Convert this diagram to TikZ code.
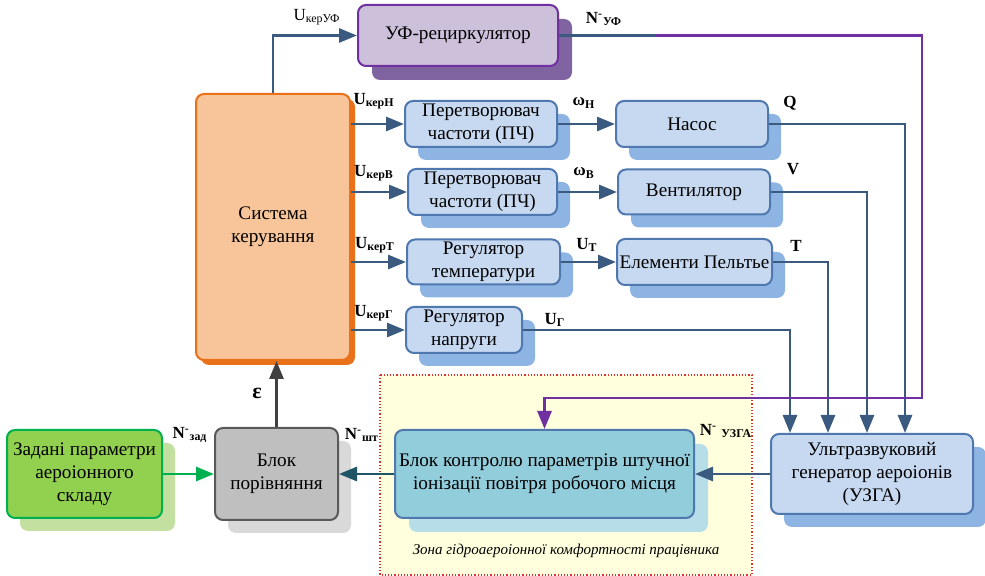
\documentclass[tikz,border=0pt]{standalone}
\usepackage{fontspec}
\setmainfont{Liberation Serif}
\usepackage{tikz}
\usetikzlibrary{arrows.meta, shadows, positioning, calc}
\definecolor{lineBlue}{RGB}{58,90,128}
\definecolor{edgeBlue}{RGB}{79,120,175}
\definecolor{boxBlue}{RGB}{198,217,241}
\definecolor{shBlue}{RGB}{142,180,227}
\definecolor{purpLine}{RGB}{112,48,160}
\definecolor{ufFill}{RGB}{204,192,218}
\definecolor{ufShadow}{RGB}{128,100,162}
\definecolor{sysFill}{RGB}{248,196,153}
\definecolor{sysEdge}{RGB}{232,113,26}
\definecolor{kFill}{RGB}{146,205,220}
\definecolor{kShadow}{RGB}{183,222,232}
\definecolor{zFill}{RGB}{146,208,80}
\definecolor{zEdge}{RGB}{0,176,80}
\definecolor{zShadow}{RGB}{196,224,160}
\definecolor{pFill}{RGB}{191,191,191}
\definecolor{pEdge}{RGB}{89,89,89}
\definecolor{pShadow}{RGB}{217,217,217}
\definecolor{epsGray}{RGB}{64,64,64}
\definecolor{tealLine}{RGB}{31,85,100}
\definecolor{zoneFill}{RGB}{255,255,221}
\definecolor{zoneEdge}{RGB}{220,50,50}

\begin{document}
\begin{tikzpicture}[x=0.5pt, y=-0.5pt,
  sz/.style 2 args={minimum width=#1*0.5pt, minimum height=#2*0.5pt},
  base/.style={draw=edgeBlue, line width=1pt, rounded corners=4pt, fill=boxBlue,
    align=center, inner sep=0pt, font=\fontsize{9.6}{11.5}\selectfont},
  shd/.style 2 args={drop shadow={shadow xshift=#1, shadow yshift=-#1, fill=#2, opacity=1}},
  blk/.style={base, shd={6.5pt}{shBlue}},
  ufblk/.style={base, draw=purpLine, fill=ufFill, shd={7pt}{ufShadow}},
  sysblk/.style={base, draw=sysEdge, fill=sysFill, shd={2.5pt}{sysEdge}},
  kblk/.style={base, fill=kFill, shd={7pt}{kShadow}},
  zblk/.style={base, draw=zEdge, fill=zFill, shd={6.5pt}{zShadow}},
  pblk/.style={base, draw=pEdge, fill=pFill, shd={6.5pt}{pShadow}},
  arr/.style={draw=lineBlue, line width=1.4pt, -{Triangle[length=9pt,width=7pt]}},
  lbl/.style={inner sep=0pt, font=\fontsize{8.5}{9}\selectfont\bfseries}]
\useasboundingbox (0,0) rectangle (985,576);

% zone of the workplace
\draw[fill=zoneFill, draw=zoneEdge, densely dotted, line width=0.6pt] (380,375) rectangle (752,575);
\node[font=\fontsize{7.5}{9}\selectfont\itshape] (zcap) at (566,551) {Зона гідроаероіонної комфортності працівника};

% blocks
\node[ufblk, sz={200}{61}] (uf) at (458,35.5) {УФ-рециркулятор};
\node[sysblk, sz={154}{266}] (sys) at (273,227) {Система\\керування};
\node[blk, sz={152}{46}] (pch1) at (481,124) {Перетворювач\\частоти (ПЧ)};
\node[blk, sz={152}{46}] (nasos) at (692,124) {Насос};
\node[blk, sz={149}{46}] (pch2) at (482.5,192) {Перетворювач\\частоти (ПЧ)};
\node[blk, sz={152}{45}] (vent) at (694,192) {Вентилятор};
\node[blk, sz={153}{45}] (regt) at (483.5,262) {Регулятор\\температури};
\node[blk, sz={155}{46}] (pelt) at (694.5,262) {Елементи Пельтье};
\node[blk, sz={116}{46}] (regn) at (464,330) {Регулятор\\напруги};
\node[blk, sz={202}{80}] (uzga) at (872,474) {Ультразвуковий\\генератор аероіонів\\(УЗГА)};
\node[kblk, sz={299}{88}] (kontr) at (544.5,474) {Блок контролю параметрів штучної\\іонізації повітря робочого місця};
\node[zblk, sz={155}{88}] (zad) at (84.5,474) {Задані параметри\\аероіонного\\складу};
\node[pblk, sz={123}{92}] (por) at (276.5,474) {Блок\\порівняння};

% control signals
\draw[arr] (sys.north) |- (uf.west);
\foreach \dst in {pch1,pch2,regt,regn}
  \draw[arr] (sys.east |- \dst.west) -- (\dst.west);
\draw[arr] (pch1) -- (nasos);
\draw[arr] (pch2) -- (vent);
\draw[arr] (regt) -- (pelt);
\foreach \src/\xx in {regn/790, pelt/828, vent/867, nasos/905}
  \draw[arr] (\src.east) -| (\xx,0 |- uzga.north);

% recirculator feedback
\coordinate (ufm) at (655,35.5);
\coordinate (pr1) at (922,35.5);
\coordinate (pr2) at (922,398);
\draw[draw=lineBlue, line width=1.4pt] (uf.east) -- (ufm);
\draw[arr, draw=purpLine] (ufm) -- (pr1) -- (pr2) -| (kontr.north);

% lower loop
\draw[arr] (uzga) -- (kontr);
\draw[arr, draw=tealLine] (kontr) -- (por);
\draw[arr, draw=zEdge] (zad) -- (por);
\draw[arr, draw=epsGray] (por.north) -- (por.north |- sys.south);

% signal labels
\node[lbl, font=\fontsize{8.5}{9}\selectfont] (lkuf) at (317,17) {U\textsubscript{керУФ}};
\node[lbl] (lnuf) at (604,19) {N\textsuperscript{-}\textsubscript{УФ}};
\node[lbl] (lkn) at (374,101) {U\textsubscript{керН}};
\node[lbl] (lkv) at (374,173) {U\textsubscript{керВ}};
\node[lbl] (lkt) at (375,245) {U\textsubscript{керТ}};
\node[lbl] (lkg) at (374,313) {U\textsubscript{керГ}};
\node[lbl] (lwn) at (584,103) {ω\textsubscript{Н}};
\node[lbl] (lwv) at (584,173) {ω\textsubscript{В}};
\node[lbl] (lut) at (587,245) {U\textsubscript{Т}};
\node[lbl] (lug) at (555,320) {U\textsubscript{Г}};
\node[lbl] (lq) at (790,103) {Q};
\node[lbl] (lv) at (793,169) {V};
\node[lbl] (lt) at (796,246) {T};
\node[lbl, font=\fontsize{11}{12}\selectfont\bfseries] (leps) at (257,393) {ε};
\node[lbl] (lnz) at (190,435) {N\textsuperscript{-}\textsubscript{зад}};
\node[lbl] (lns) at (362,435) {N\textsuperscript{-}\textsubscript{шт}};
\node[lbl] (lnu) at (726,431) {N\textsuperscript{-} \textsubscript{УЗГА}};
\end{tikzpicture}
\end{document}
